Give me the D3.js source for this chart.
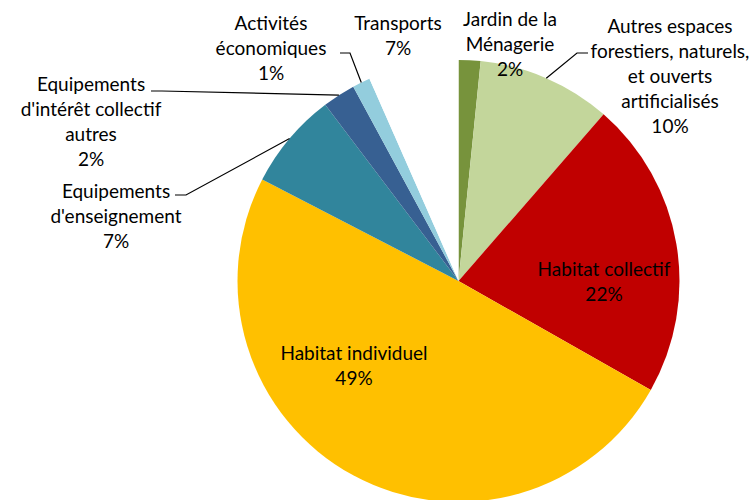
<!DOCTYPE html>
<html>
<head>
<meta charset="utf-8">
<script src="https://cdn.jsdelivr.net/npm/d3@7"></script>
<style>
  html, body { margin: 0; padding: 0; background: #fff; }
  svg { display: block; }
  text { font-family: Lato, "Open Sans", sans-serif; fill: #000; }
</style>
</head>
<body>
<svg id="chart" width="754" height="500"></svg>
<script>
// Land-use breakdown (share of area, %)
const categories = [
  "Jardin de la Ménagerie",
  "Autres espaces forestiers, naturels, et ouverts artificialisés",
  "Habitat collectif",
  "Habitat individuel",
  "Equipements d'enseignement",
  "Equipements d'intérêt collectif autres",
  "Activités économiques",
  "Transports"
];
const values = [1.6, 9.8, 21.8, 49.4, 7.1, 2.4, 1.3, 6.6];
const colors = ["#77933C", "#C3D69B", "#C00000", "#FFC000", "#31859C", "#376092", "#93CDDD", "#FFFFFF"];

// Label lines as displayed (percentage appended from the value)
const labelLines = [
  ["Jardin de la", "Ménagerie"],
  ["Autres espaces", "forestiers, naturels,", "et ouverts", "artificialisés"],
  ["Habitat collectif"],
  ["Habitat individuel"],
  ["Equipements", "d'enseignement"],
  ["Equipements", "d'intérêt collectif", "autres"],
  ["Activités", "économiques"],
  ["Transports"]
];

// Label layout: centre x, centre y of first line, and optional leader elbow
const labelLayout = [
  { x: 510, y: 18 },
  { x: 670, y: 25, elbow: [[588, 53], [577, 53]] },
  { x: 604, y: 268 },
  { x: 354, y: 352 },
  { x: 116, y: 190, elbow: [[175, 195], [186, 195]] },
  { x: 91,  y: 83,  elbow: [[151, 91], [162, 91]] },
  { x: 271, y: 22,  elbow: [[340, 53], [350, 53]] },
  { x: 398, y: 22 }
];

const svg = d3.select("#chart");
const cx = 458.5, cy = 281, radius = 221;
const lineH = 25;

const data = categories.map((c, i) => ({ name: c, value: values[i], color: colors[i], lines: labelLines[i], layout: labelLayout[i] }));

const pie = d3.pie().sort(null).value(d => d.value).startAngle(0).endAngle(2 * Math.PI);
const arc = d3.arc().innerRadius(0).outerRadius(radius);
const arcs = pie(data);

const g = svg.append("g").attr("transform", `translate(${cx},${cy})`);
g.selectAll("path.slice")
  .data(arcs)
  .join("path")
  .attr("class", "slice")
  .attr("d", arc)
  .attr("fill", d => d.data.color);

// Leader lines from the outer rim of small slices to their labels
arcs.forEach(a => {
  const L = a.data.layout;
  if (!L.elbow) return;
  const mid = (a.startAngle + a.endAngle) / 2;
  const px = cx + radius * Math.sin(mid);
  const py = cy - radius * Math.cos(mid);
  const pts = L.elbow.concat([[px, py]]);
  svg.append("path")
    .attr("d", d3.line()(pts))
    .attr("fill", "none")
    .attr("stroke", "#000")
    .attr("stroke-width", 1.2);
});

// Labels
const fmt = v => Math.round(v) + "%";
arcs.forEach(a => {
  const L = a.data.layout;
  const lines = a.data.lines.concat([fmt(a.data.value)]);
  const t = svg.append("text")
    .attr("text-anchor", "middle")
    .attr("font-size", 19)
    .attr("dominant-baseline", "central");
  lines.forEach((ln, k) => {
    t.append("tspan")
      .attr("x", L.x)
      .attr("y", L.y + k * lineH)
      .text(ln);
  });
});
</script>
</body>
</html>
